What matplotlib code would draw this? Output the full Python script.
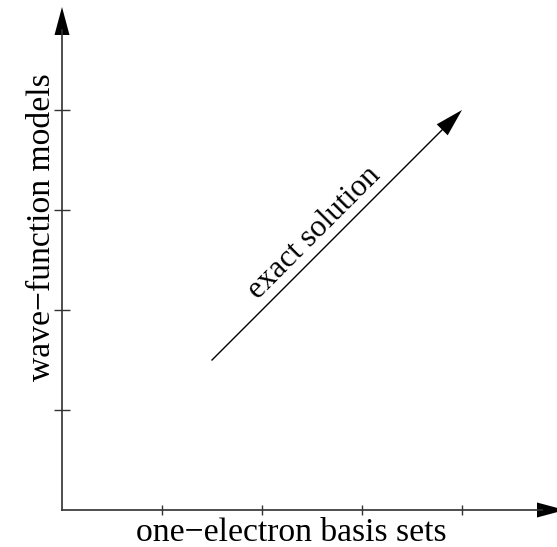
import matplotlib
matplotlib.use('Agg')
import matplotlib.pyplot as plt

plt.rcParams['font.family'] = ['Liberation Serif', 'DejaVu Serif']

# axis ticks (no labels) and the diagonal arrow
x_ticks = [1, 2, 3, 4]
y_ticks = [1, 2, 3, 4]
arrow_start = (1.5, 1.5)
arrow_end = (4.0, 4.0)
x_label = 'one\u2212electron basis sets'
y_label = 'wave\u2212function models'
arrow_label = 'exact solution'

fig = plt.figure(figsize=(5.57, 5.47), dpi=100)
ax = fig.add_axes([62 / 557, 37 / 547, 495 / 557, 502 / 547])
ax.set_xlim(0, 4.95)
ax.set_ylim(0, 5.02)
for s in ax.spines.values():
    s.set_visible(False)

ax.set_xticks(x_ticks)
ax.set_yticks(y_ticks)
ax.set_xticklabels([])
ax.set_yticklabels([])
ax.tick_params(axis='x', direction='inout', length=7.2, width=1.0, color='#333333')
ax.tick_params(axis='y', direction='inout', length=11, width=1.0, color='#333333')

# axes drawn as arrows
ax.arrow(0, 0, 5.03, 0, head_width=0.15, head_length=0.28, length_includes_head=True,
         fc='k', ec='k', lw=0.0, clip_on=False)
ax.plot([0, 4.8], [0, 0], color='#333333', lw=1.2, clip_on=False)
ax.arrow(0, 0, 0, 5.03, head_width=0.15, head_length=0.28, length_includes_head=True,
         fc='k', ec='k', lw=0.0, clip_on=False)
ax.plot([0, 0], [0, 4.8], color='#333333', lw=1.2, clip_on=False)

dx = arrow_end[0] - arrow_start[0]
dy = arrow_end[1] - arrow_start[1]
ax.arrow(arrow_start[0], arrow_start[1], dx, dy, head_width=0.155, head_length=0.28,
         length_includes_head=True, fc='k', ec='k', lw=0.0, clip_on=False)
ax.plot([arrow_start[0], arrow_end[0] - 0.15], [arrow_start[1], arrow_end[1] - 0.15],
        color='k', lw=1.0)

ax.text(2.91 - 0.62, -0.31, x_label, fontsize=24.2, ha='center', va='baseline')
ax.text(-0.12, 2.83, y_label, fontsize=24.2, ha='center', va='baseline',
        rotation=90, rotation_mode='anchor')
ax.text(2.52, 2.77, arrow_label, fontsize=22.5, ha='center', va='center',
        rotation=45, rotation_mode='anchor')

fig.savefig('out.png', dpi=100)
